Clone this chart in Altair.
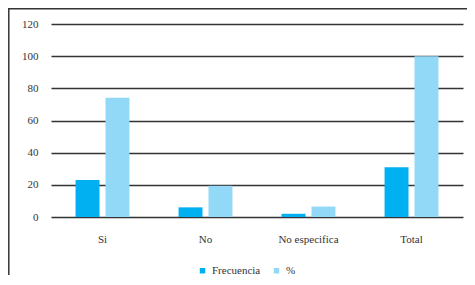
import altair as alt
import pandas as pd

categories = ["Si", "No", "No especifica", "Total"]
frecuencia = [23, 6, 2, 31]
porcentaje = [74.2, 19.4, 6.5, 100]
series = ["Frecuencia", "%"]
colors = ["#00B0F0", "#92D9F7"]
y_ticks = [0, 20, 40, 60, 80, 100, 120]

rows = []
for c, f, p in zip(categories, frecuencia, porcentaje):
    rows.append({"cat": c, "serie": series[0], "valor": f})
    rows.append({"cat": c, "serie": series[1], "valor": p})
df = pd.DataFrame(rows)

FONT = "Liberation Serif"

bars = alt.Chart(df).mark_bar().encode(
    x=alt.X("cat:N", sort=categories, title=None,
            scale=alt.Scale(paddingInner=0, paddingOuter=0),
            axis=alt.Axis(labelAngle=0, domain=False, ticks=False, labelPadding=16,
                          labelFont=FONT, labelFontSize=11, labelColor="#333")),
    xOffset=alt.XOffset("serie:N", sort=series,
                        scale=alt.Scale(paddingInner=0.2, paddingOuter=0.82)),
    y=alt.Y("valor:Q", title=None,
            scale=alt.Scale(domain=[0, 120], nice=False),
            axis=alt.Axis(values=y_ticks, domain=False, ticks=False, labelPadding=13,
                          labelFont=FONT, labelFontSize=11, labelColor="#333",
                          gridColor="#333", gridWidth=1.4, gridOpacity=1)),
    color=alt.Color("serie:N", sort=series, title=None,
                    scale=alt.Scale(domain=series, range=colors),
                    legend=alt.Legend(orient="none", direction="horizontal",
                                      legendX=146, legendY=241,
                                      symbolType="square", symbolSize=30,
                                      symbolStrokeWidth=0,
                                      labelFont=FONT, labelFontSize=11,
                                      labelColor="#333", columnPadding=10)),
)

frame_data = alt.Data(values=[{"a": 1}])
top_border = alt.Chart(frame_data).mark_rule(color="#333", strokeWidth=1.5).encode(
    x=alt.value(-42.5), x2=alt.value(420), y=alt.value(-15.2))
left_border = alt.Chart(frame_data).mark_rule(color="#333", strokeWidth=1.5).encode(
    x=alt.value(-42.2), y=alt.value(-16), y2=alt.value(260))

chart = alt.layer(bars, top_border, left_border).properties(
    width=412, height=193,
    autosize=alt.AutoSizeParams(type="none"),
    padding={"left": 43, "top": 16, "right": 4, "bottom": 58},
).configure(background="white", font=FONT).configure_view(stroke=None)

chart.save("out.html", embed_options={"renderer": "svg", "actions": False})
